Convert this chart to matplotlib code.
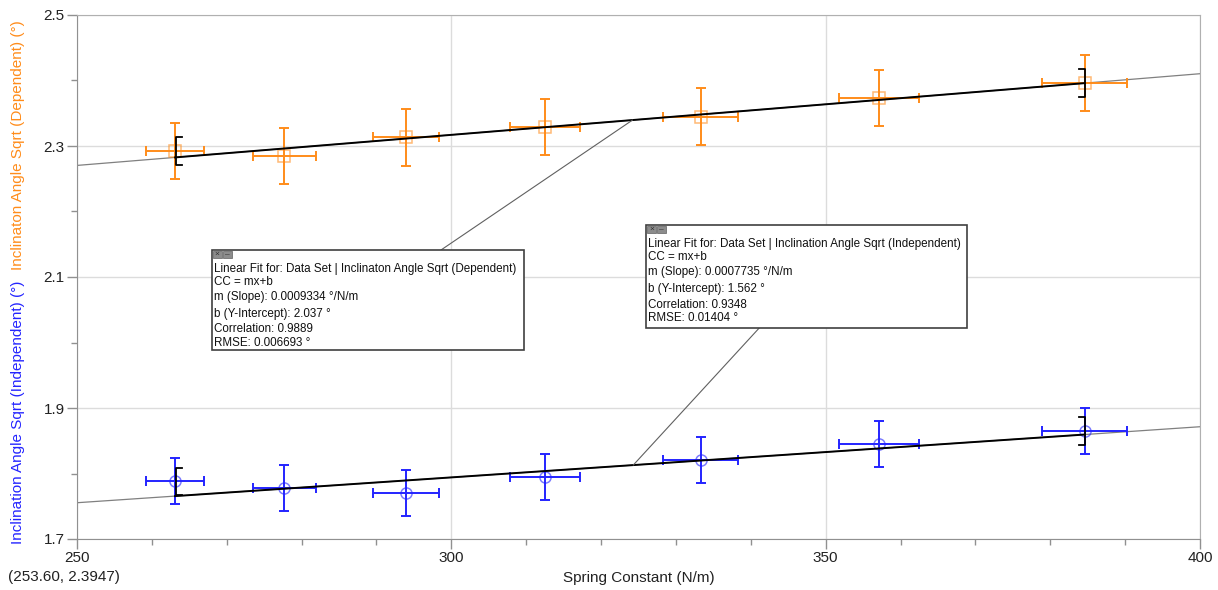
#!/usr/bin/env python3
"""Inclination angle sqrt vs spring constant, two data sets with linear fits."""

import numpy as np
import matplotlib
matplotlib.use('Agg')
import matplotlib.pyplot as plt
from matplotlib.patches import Rectangle
from matplotlib.ticker import MultipleLocator

plt.rcParams['font.family'] = ['Liberation Sans', 'DejaVu Sans']

# Data
spring_k = [263.1, 277.7, 294.0, 312.5, 333.3, 357.1, 384.6]
spring_k_err = [3.9, 4.16, 4.4, 4.67, 5.03, 5.36, 5.69]
dep_sqrt = [2.292, 2.285, 2.313, 2.329, 2.345, 2.373, 2.396]
dep_err = [0.043] * 7
indep_sqrt = [1.788, 1.778, 1.770, 1.795, 1.821, 1.845, 1.865]
indep_err = [0.035] * 7

# Fit results shown by the software
fit_dep = dict(m=0.0009334, b=2.037)
fit_indep = dict(m=0.0007735, b=1.562)
dep_text = ["Linear Fit for: Data Set | Inclinaton Angle Sqrt (Dependent)",
            "CC = mx+b",
            "m (Slope): 0.0009334 \u00b0/N/m",
            "b (Y-Intercept): 2.037 \u00b0",
            "Correlation: 0.9889",
            "RMSE: 0.006693 \u00b0"]
indep_text = ["Linear Fit for: Data Set | Inclination Angle Sqrt (Independent)",
              "CC = mx+b",
              "m (Slope): 0.0007735 \u00b0/N/m",
              "b (Y-Intercept): 1.562 \u00b0",
              "Correlation: 0.9348",
              "RMSE: 0.01404 \u00b0"]

orange = '#FF8C1A'
blue = '#2424FF'
W, H = 1218, 590

fig = plt.figure(figsize=(W / 100, H / 100), dpi=100)
ax = fig.add_axes([77 / W, 1 - 539 / H, (1200 - 77) / W, (539 - 15) / H])

ax.set_xlim(250, 400)
ax.set_ylim(1.7, 2.5)
ax.xaxis.set_major_locator(MultipleLocator(50))
ax.xaxis.set_minor_locator(MultipleLocator(10))
ax.yaxis.set_major_locator(MultipleLocator(0.2))
ax.yaxis.set_minor_locator(MultipleLocator(0.1))
ax.set_yticks([1.7, 1.9, 2.1, 2.3, 2.5])
ax.set_yticklabels(['1.7', '1.9', '2.1', '2.3', '2.5'])
ax.grid(True, which='major', color='#DCDCDC', lw=1)
ax.set_axisbelow(True)
ax.tick_params(which='major', length=7, width=1, color='#909090', labelsize=11,
               labelcolor='#222222', pad=2)
ax.tick_params(which='minor', length=4, width=1, color='#909090')
for s in ax.spines.values():
    s.set_color('#B0B0B0')
ax.spines['left'].set_color('#909090')
ax.spines['bottom'].set_color('#909090')
ax.set_xlabel('Spring Constant (N/m)', fontsize=11, color='#222222', labelpad=4)

xx = np.array(spring_k)
xfull = np.array([250, 400])
for yv, yerr, fit, col, mk in [(dep_sqrt, dep_err, fit_dep, orange, 's'),
                               (indep_sqrt, indep_err, fit_indep, blue, 'o')]:
    # fit line: thin grey over whole range, black across the fitted points
    ax.plot(xfull, fit['m'] * xfull + fit['b'], color='#808080', lw=0.9, zorder=2)
    xr = np.array([xx[0], xx[-1]])
    ax.plot(xr, fit['m'] * xr + fit['b'], color='black', lw=1.4, zorder=4)
    ax.errorbar(spring_k, yv, xerr=spring_k_err, yerr=yerr, fmt='none',
                ecolor=col, elinewidth=1.4, capsize=3.5, capthick=1.4, zorder=3)
    ax.plot(spring_k, yv, mk, ms=8.5 if mk == 's' else 8, mfc='none',
            mec=col, mew=1.1, alpha=0.6, zorder=3)
    # range brackets at first and last points
    for i, d in [(0, 1), (-1, -1)]:
        x0, y0 = spring_k[i] + 0.1, yv[i]
        h = 0.021
        ax.plot([x0 + d * 0.8, x0, x0, x0 + d * 0.8], [y0 + h, y0 + h, y0 - h, y0 - h],
                color='black', lw=1.3, zorder=5)

# left axis labels in two colours
fig.text(18 / W, 1 - 270 / H, 'Inclinaton Angle Sqrt (Dependent) (\u00b0)', rotation=90,
         ha='center', va='bottom', fontsize=11, color=orange)
fig.text(18 / W, 1 - 281 / H, 'Inclination Angle Sqrt (Independent) (\u00b0)', rotation=90,
         ha='center', va='top', fontsize=11, color=blue)
fig.text(8 / W, 1 - 577 / H, '(253.60, 2.3947)', ha='left', va='center',
         fontsize=11, color='#222222')


def fit_box(left, top, right, bottom, lines, line_y, anchor, fit, x_hit):
    ax.annotate('', xy=(x_hit, fit['m'] * x_hit + fit['b']), xycoords='data',
                xytext=(anchor[0] / W, 1 - anchor[1] / H), textcoords='figure fraction',
                arrowprops=dict(arrowstyle='-', color='#606060', lw=0.8,
                                shrinkA=0, shrinkB=0), zorder=6)
    fig.add_artist(Rectangle((left / W, 1 - bottom / H), (right - left) / W,
                             (bottom - top) / H, transform=fig.transFigure,
                             facecolor='white', edgecolor='#404040', lw=1.2, zorder=10))
    for k, c in enumerate(['\u00d7', '\u2013']):
        x0 = left + 1 + k * 10
        fig.add_artist(Rectangle((x0 / W, 1 - (top + 8) / H), 9 / W, 7 / H,
                                 transform=fig.transFigure, facecolor='#8C8C8C',
                                 edgecolor='#606060', lw=0.5, zorder=11))
        fig.text((x0 + 4.5) / W, 1 - (top + 4.5) / H, c, ha='center', va='center',
                 fontsize=6, color='#303030', zorder=12)
    for t, yy in zip(lines, line_y):
        fig.text((left + 2) / W, 1 - yy / H, t, ha='left', va='center',
                 fontsize=8.4, color='#111111', zorder=12)


fit_box(211.7, 250, 524, 350, dep_text, [269, 282, 297, 314, 329, 343],
        (441, 250), fit_dep, 324.2)
fit_box(646, 225, 967, 327.7, indep_text, [244.5, 257.5, 272.5, 289, 305, 318],
        (759.5, 327.7), fit_indep, 324.3)

fig.savefig('out.png', dpi=100)
